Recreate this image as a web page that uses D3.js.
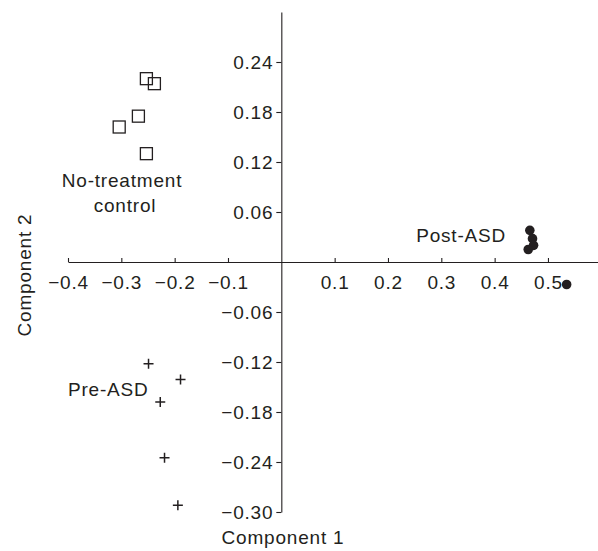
<!DOCTYPE html>
<html>
<head>
<meta charset="utf-8">
<script src="https://cdn.jsdelivr.net/npm/d3@7"></script>
<style>
  body { margin: 0; background: #fff; }
  text { font-family: "Liberation Sans", Arial, sans-serif; fill: #231f20; }
</style>
</head>
<body>
<div id="chart"></div>
<script>
// PCA scores
const controlX = [-0.253, -0.238, -0.268, -0.304, -0.253];
const controlY = [0.220, 0.214, 0.175, 0.162, 0.130];
const preX = [-0.249, -0.189, -0.227, -0.219, -0.194];
const preY = [-0.122, -0.141, -0.168, -0.235, -0.292];
const postX = [0.466, 0.471, 0.473, 0.463, 0.535];
const postY = [0.038, 0.028, 0.020, 0.015, -0.027];

const xTicks = [-0.4, -0.3, -0.2, -0.1, 0.1, 0.2, 0.3, 0.4, 0.5];
const yTicks = [-0.30, -0.24, -0.18, -0.12, -0.06, 0.06, 0.12, 0.18, 0.24];

const width = 598, height = 551;
const fontSize = "19px", spacing = "0.8px";

const svg = d3.select("#chart")
  .append("svg")
  .attr("width", width)
  .attr("height", height);

const x = d3.scaleLinear().domain([-0.4, 0.6]).range([68, 601.3]);
const y = d3.scaleLinear().domain([-0.3, 0.3]).range([512, 12]);

const xAxis = svg.append("g")
  .attr("transform", `translate(0,${y(0)})`)
  .call(d3.axisBottom(x).tickValues(xTicks).tickFormat(d3.format(".1f"))
    .tickSizeInner(-4).tickSizeOuter(0).tickPadding(14));

const yAxis = svg.append("g")
  .attr("transform", `translate(${x(0)},0)`)
  .call(d3.axisLeft(y).tickValues(yTicks).tickFormat(d3.format(".2f"))
    .tickSizeInner(5).tickSizeOuter(0).tickPadding(3));

[xAxis, yAxis].forEach(g => {
  g.selectAll("path, line").attr("stroke", "#231f20").attr("stroke-width", 1.1);
  g.selectAll("text")
    .attr("fill", "#231f20")
    .style("font-size", fontSize)
    .style("letter-spacing", spacing)
    .style("font-family", "'Liberation Sans', Arial, sans-serif");
});

// no-treatment control: open squares
svg.selectAll("rect.ctrl")
  .data(d3.zip(controlX, controlY))
  .join("rect")
  .attr("class", "ctrl")
  .attr("x", d => x(d[0]) - 6)
  .attr("y", d => y(d[1]) - 6)
  .attr("width", 12)
  .attr("height", 12)
  .attr("fill", "none")
  .attr("stroke", "#231f20")
  .attr("stroke-width", 1.3);

// pre-ASD: plus signs
svg.selectAll("path.pre")
  .data(d3.zip(preX, preY))
  .join("path")
  .attr("class", "pre")
  .attr("d", d => {
    const cx = x(d[0]), cy = y(d[1]);
    return `M${cx - 5},${cy}H${cx + 5}M${cx},${cy - 5}V${cy + 5}`;
  })
  .attr("stroke", "#231f20")
  .attr("stroke-width", 1.5);

// post-ASD: filled circles
svg.selectAll("circle.post")
  .data(d3.zip(postX, postY))
  .join("circle")
  .attr("class", "post")
  .attr("cx", d => x(d[0]))
  .attr("cy", d => y(d[1]))
  .attr("r", 4.8)
  .attr("fill", "#231f20");

const label = (txt, px, py, anchor) => svg.append("text")
  .attr("x", px).attr("y", py)
  .attr("text-anchor", anchor)
  .style("font-size", fontSize)
  .style("letter-spacing", spacing)
  .text(txt);

label("No-treatment", 122, 187, "middle");
label("control", 125, 212, "middle");
label("Post-ASD", 506, 242, "end");
label("Pre-ASD", 68, 396, "start");

label("Component 1", 283, 544, "middle");

svg.append("text")
  .attr("transform", "translate(31,275) rotate(-90)")
  .attr("text-anchor", "middle")
  .style("font-size", fontSize)
  .style("letter-spacing", spacing)
  .text("Component 2");
</script>
</body>
</html>
